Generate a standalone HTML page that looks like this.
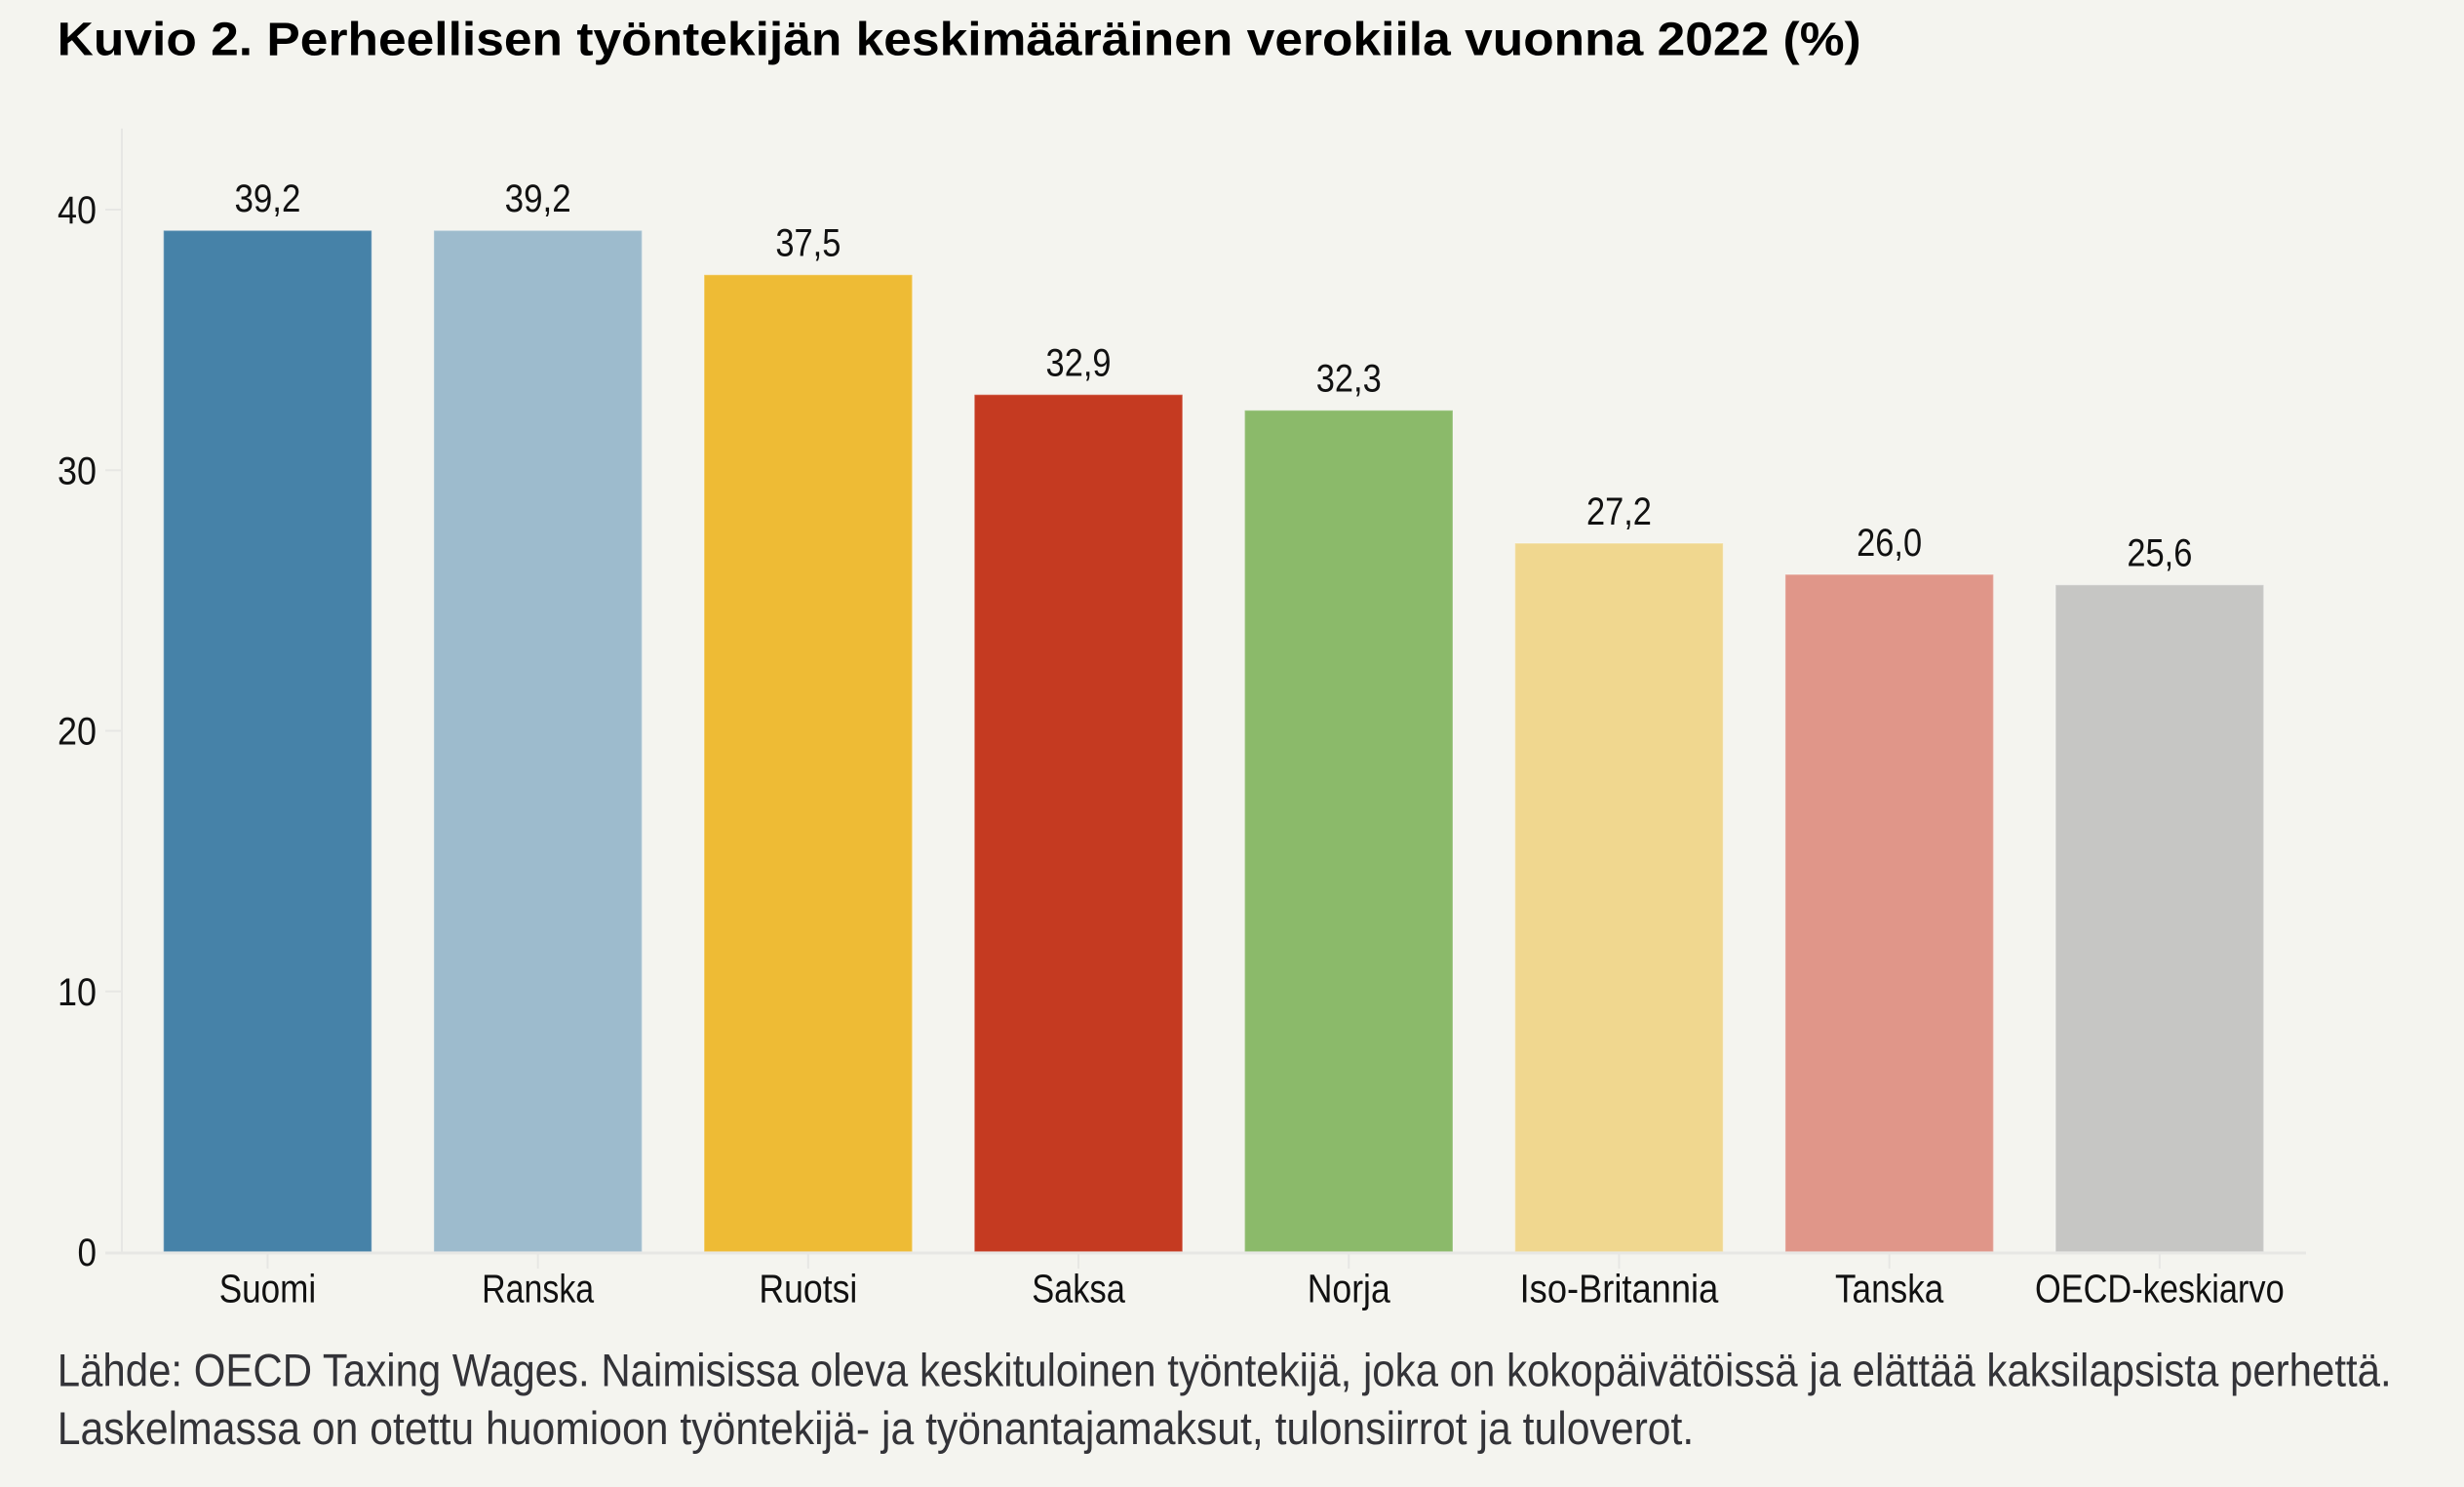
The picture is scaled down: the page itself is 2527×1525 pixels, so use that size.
<!DOCTYPE html>
<html>
<head>
<meta charset="utf-8">
<style>
  html,body{margin:0;padding:0;background:#f4f4ef;}
  svg{display:block;}
  text{font-family:"Liberation Sans",sans-serif;}
</style>
</head>
<body>
<svg width="2527" height="1525" viewBox="0 0 2527 1525" xmlns="http://www.w3.org/2000/svg">
  <rect x="0" y="0" width="2527" height="1525" fill="#f4f4ef"/>

  <!-- Title -->
  <text x="58.7" y="56.7" font-size="48" font-weight="bold" fill="#000" textLength="1850" lengthAdjust="spacingAndGlyphs">Kuvio 2. Perheellisen työntekijän keskimääräinen verokiila vuonna 2022 (%)</text>

  <!-- Axes -->
  <line x1="125" y1="131.7" x2="125" y2="1284" stroke="#e7e7e4" stroke-width="2"/>
  <g stroke="#e7e7e4" stroke-width="2">
    <line x1="108" y1="215" x2="125" y2="215"/>
    <line x1="108" y1="482.25" x2="125" y2="482.25"/>
    <line x1="108" y1="749.5" x2="125" y2="749.5"/>
    <line x1="108" y1="1016.75" x2="125" y2="1016.75"/>
  </g>

  <!-- Y tick labels -->
  <g font-size="40" fill="#111" text-anchor="end">
    <text x="99" y="229" textLength="40" lengthAdjust="spacingAndGlyphs">40</text>
    <text x="99" y="496.5" textLength="40" lengthAdjust="spacingAndGlyphs">30</text>
    <text x="99" y="763.5" textLength="40" lengthAdjust="spacingAndGlyphs">20</text>
    <text x="99" y="1031" textLength="40" lengthAdjust="spacingAndGlyphs">10</text>
    <text x="99" y="1298" textLength="19.5" lengthAdjust="spacingAndGlyphs">0</text>
  </g>

  <!-- Bars -->
  <g stroke="#ffffff" stroke-opacity="0.25" stroke-width="1.5">
    <rect x="167.7" y="236.4" width="213.5" height="1047.6" fill="#4682a8"/>
    <rect x="444.9" y="236.4" width="213.5" height="1047.6" fill="#9dbbcd"/>
    <rect x="722.1" y="281.8" width="213.5" height="1002.2" fill="#eebb35"/>
    <rect x="999.3" y="404.7" width="213.5" height="879.3" fill="#c53a21"/>
    <rect x="1276.5" y="420.8" width="213.5" height="863.2" fill="#8bba6a"/>
    <rect x="1553.7" y="557.1" width="213.5" height="726.9" fill="#f0d78f"/>
    <rect x="1830.9" y="589.15" width="213.5" height="694.85" fill="#e09689"/>
    <rect x="2108.1" y="599.8" width="213.5" height="684.2" fill="#c6c6c4"/>
  </g>

  <!-- X axis baseline and ticks -->
  <line x1="108" y1="1285" x2="2365" y2="1285" stroke="#e7e7e4" stroke-width="3"/>
  <g stroke="#e7e7e4" stroke-width="2">
    <line x1="274.45" y1="1286" x2="274.45" y2="1301"/>
    <line x1="551.65" y1="1286" x2="551.65" y2="1301"/>
    <line x1="828.85" y1="1286" x2="828.85" y2="1301"/>
    <line x1="1106.05" y1="1286" x2="1106.05" y2="1301"/>
    <line x1="1383.25" y1="1286" x2="1383.25" y2="1301"/>
    <line x1="1660.45" y1="1286" x2="1660.45" y2="1301"/>
    <line x1="1937.65" y1="1286" x2="1937.65" y2="1301"/>
    <line x1="2214.85" y1="1286" x2="2214.85" y2="1301"/>
  </g>

  <!-- Data labels -->
  <g font-size="40" fill="#111" text-anchor="middle">
    <text x="274.45" y="217" textLength="68" lengthAdjust="spacingAndGlyphs">39,2</text>
    <text x="551.65" y="217" textLength="68" lengthAdjust="spacingAndGlyphs">39,2</text>
    <text x="828.85" y="262.3" textLength="67" lengthAdjust="spacingAndGlyphs">37,5</text>
    <text x="1106.05" y="385.5" textLength="67" lengthAdjust="spacingAndGlyphs">32,9</text>
    <text x="1383.25" y="401.5" textLength="67" lengthAdjust="spacingAndGlyphs">32,3</text>
    <text x="1660.45" y="537.8" textLength="67" lengthAdjust="spacingAndGlyphs">27,2</text>
    <text x="1937.65" y="569.8" textLength="67" lengthAdjust="spacingAndGlyphs">26,0</text>
    <text x="2214.85" y="580.5" textLength="67" lengthAdjust="spacingAndGlyphs">25,6</text>
  </g>

  <!-- X labels -->
  <g font-size="41" fill="#111" text-anchor="middle">
    <text x="274.45" y="1335.5" textLength="99.5" lengthAdjust="spacingAndGlyphs">Suomi</text>
    <text x="551.65" y="1335.5" textLength="115" lengthAdjust="spacingAndGlyphs">Ranska</text>
    <text x="828.85" y="1335.5" textLength="101" lengthAdjust="spacingAndGlyphs">Ruotsi</text>
    <text x="1106.05" y="1335.5" textLength="95.7" lengthAdjust="spacingAndGlyphs">Saksa</text>
    <text x="1383.25" y="1335.5" textLength="85" lengthAdjust="spacingAndGlyphs">Norja</text>
    <text x="1660.45" y="1335.5" textLength="203.7" lengthAdjust="spacingAndGlyphs">Iso-Britannia</text>
    <text x="1937.65" y="1335.5" textLength="111.3" lengthAdjust="spacingAndGlyphs">Tanska</text>
    <text x="2214.85" y="1335.5" textLength="255.7" lengthAdjust="spacingAndGlyphs">OECD-keskiarvo</text>
  </g>

  <!-- Footnote -->
  <g font-size="47" fill="#333338">
    <text x="58.7" y="1421.3" textLength="2394" lengthAdjust="spacingAndGlyphs">Lähde: OECD Taxing Wages. Naimisissa oleva keskituloinen työntekijä, joka on kokopäivätöissä ja elättää kaksilapsista perhettä.</text>
    <text x="58.7" y="1481" textLength="1678.6" lengthAdjust="spacingAndGlyphs">Laskelmassa on otettu huomioon työntekijä- ja työnantajamaksut, tulonsiirrot ja tuloverot.</text>
  </g>
</svg>
</body>
</html>
